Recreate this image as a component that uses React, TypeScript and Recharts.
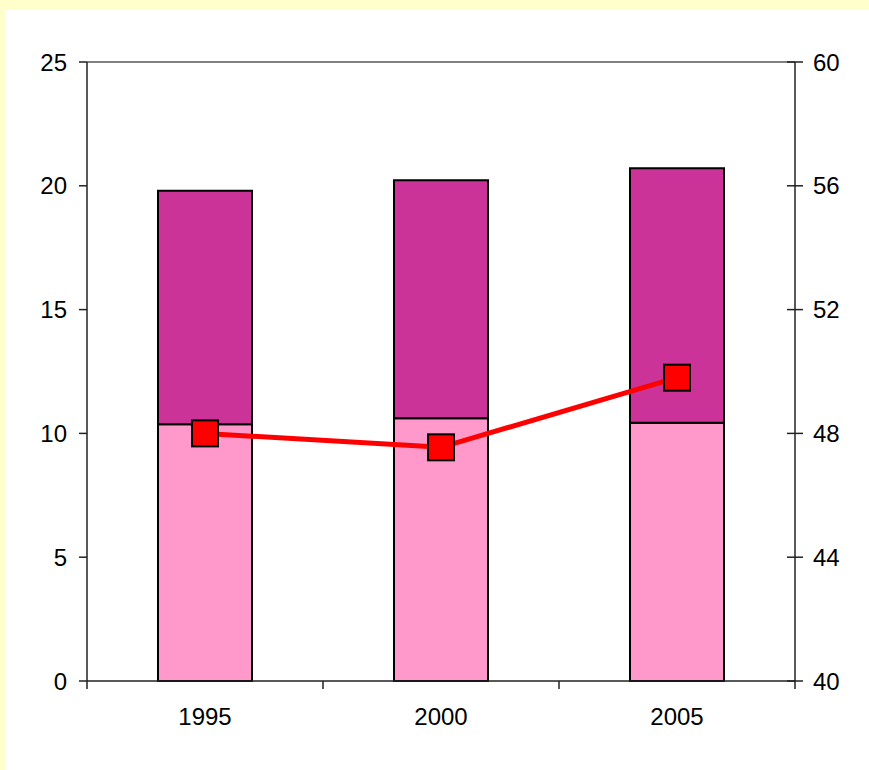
import React from "react";
import {
  ComposedChart,
  Bar,
  Line,
  XAxis,
  YAxis,
  ReferenceLine,
} from "recharts";

const years = ["1995", "2000", "2005"];
const lowerPart = [10.37, 10.61, 10.43];
const upperPart = [9.43, 9.61, 10.28];
const lineValues = [48.0, 47.55, 49.8];

const leftTicks = [0, 5, 10, 15, 20, 25];
const rightTicks = [40, 44, 48, 52, 56, 60];

const data = years.map((y, i) => ({
  year: y,
  lower: lowerPart[i],
  upper: upperPart[i],
  value: lineValues[i],
}));

const FONT = "'Liberation Sans', Arial, sans-serif";
const AXIS = "#222";
const X_MARGIN = 27;

const SquareDot = (props: any) => {
  const { cx, cy, index } = props;
  if (cx == null || cy == null) return null;
  return (
    <rect
      key={"dot" + index}
      x={cx - 13}
      y={cy - 13}
      width={26}
      height={26}
      fill="#FF0000"
      stroke="#000"
      strokeWidth={2}
    />
  );
};

// right axis ticks cross the axis line
const RightTick = (props: any) => {
  const { x, y, payload } = props;
  const axisX = x - 18;
  return (
    <g>
      <line x1={axisX - 8} x2={axisX + 8} y1={y} y2={y} stroke={AXIS} strokeWidth={1.5} />
      <text x={x} y={y} dy="0.355em" textAnchor="start" fill="#000" fontSize={24} fontFamily={FONT}>
        {payload.value}
      </text>
    </g>
  );
};

// category labels, with tick marks on the boundaries between categories
const CategoryTick = (props: any) => {
  const { x, y, payload, index, visibleTicksCount } = props;
  const half = payload.offset || 0;
  const axisY = y - X_MARGIN;
  const isLast = index === (visibleTicksCount ?? years.length) - 1;
  return (
    <g>
      <line x1={x - half} x2={x - half} y1={axisY} y2={axisY + 8} stroke={AXIS} strokeWidth={1.5} />
      {isLast && (
        <line x1={x + half} x2={x + half} y1={axisY} y2={axisY + 8} stroke={AXIS} strokeWidth={1.5} />
      )}
      <text x={x} y={y} dy="0.71em" textAnchor="middle" fill="#000" fontSize={24} fontFamily={FONT}>
        {payload.value}
      </text>
    </g>
  );
};

export default function App() {
  return (
    <div
      style={{
        position: "absolute",
        left: 0,
        top: 0,
        width: 869,
        height: 770,
        background: "#FFFFCC",
      }}
    >
      <div
        style={{
          position: "absolute",
          left: 5,
          top: 10,
          right: 0,
          bottom: 0,
          background: "#FFFFFF",
        }}
      />
      <div style={{ position: "absolute", left: 0, top: 0 }}>
        <ComposedChart
          width={869}
          height={770}
          data={data}
          margin={{ top: 62, right: 14, left: 0, bottom: 51 }}
          style={{ fontFamily: FONT }}
        >
          <XAxis
            dataKey="year"
            height={38}
            axisLine={{ stroke: AXIS, strokeWidth: 1.5 }}
            tickLine={false}
            tickSize={0}
            tickMargin={X_MARGIN}
            interval={0}
            tick={<CategoryTick />}
          />
          <YAxis
            yAxisId="left"
            domain={[0, 25]}
            ticks={leftTicks}
            width={87}
            tickSize={8}
            tickMargin={12}
            axisLine={{ stroke: AXIS, strokeWidth: 1.5 }}
            tickLine={{ stroke: AXIS, strokeWidth: 1.5 }}
            tick={{ fill: "#000", fontSize: 24, fontFamily: FONT }}
          />
          <YAxis
            yAxisId="right"
            orientation="right"
            domain={[40, 60]}
            ticks={rightTicks}
            width={60}
            tickSize={8}
            tickMargin={10}
            axisLine={{ stroke: AXIS, strokeWidth: 1.5 }}
            tickLine={false}
            tick={<RightTick />}
          />
          <ReferenceLine yAxisId="left" y={25} stroke="#808080" strokeWidth={2} />
          <Bar
            yAxisId="left"
            dataKey="lower"
            stackId="a"
            barSize={94}
            fill="#FF99CC"
            stroke="#000"
            strokeWidth={2}
            isAnimationActive={false}
          />
          <Bar
            yAxisId="left"
            dataKey="upper"
            stackId="a"
            barSize={94}
            fill="#CC3399"
            stroke="#000"
            strokeWidth={2}
            isAnimationActive={false}
          />
          <Line
            yAxisId="right"
            dataKey="value"
            stroke="#FF0000"
            strokeWidth={5}
            dot={<SquareDot />}
            activeDot={false}
            isAnimationActive={false}
          />
        </ComposedChart>
      </div>
    </div>
  );
}
